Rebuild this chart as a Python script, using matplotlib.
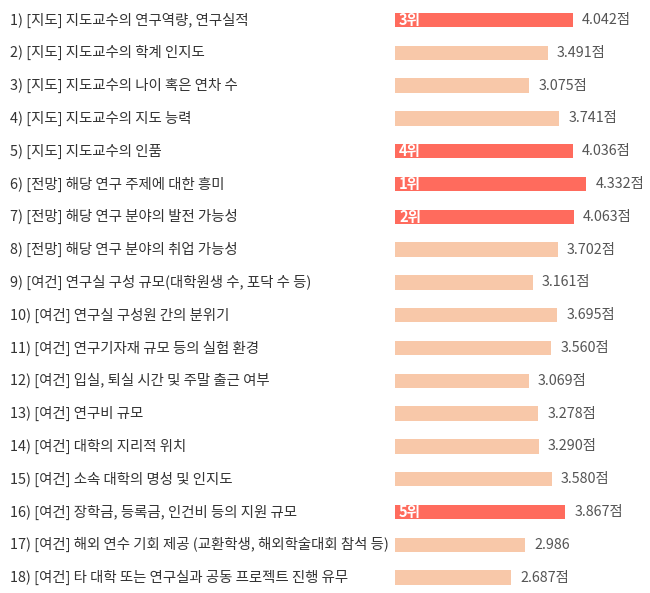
import matplotlib
matplotlib.use('Agg')
import matplotlib.pyplot as plt

plt.rcParams['font.family'] = ['Noto Sans CJK KR', 'DejaVu Sans']

labels = [
    '1) [지도] 지도교수의 연구역량, 연구실적',
    '2) [지도] 지도교수의 학계 인지도',
    '3) [지도] 지도교수의 나이 혹은 연차 수',
    '4) [지도] 지도교수의 지도 능력',
    '5) [지도] 지도교수의 인품',
    '6) [전망] 해당 연구 주제에 대한 흥미',
    '7) [전망] 해당 연구 분야의 발전 가능성',
    '8) [전망] 해당 연구 분야의 취업 가능성',
    '9) [여건] 연구실 구성 규모(대학원생 수, 포닥 수 등)',
    '10) [여건] 연구실 구성원 간의 분위기',
    '11) [여건] 연구기자재 규모 등의 실험 환경',
    '12) [여건] 입실, 퇴실 시간 및 주말 출근 여부',
    '13) [여건] 연구비 규모',
    '14) [여건] 대학의 지리적 위치',
    '15) [여건] 소속 대학의 명성 및 인지도',
    '16) [여건] 장학금, 등록금, 인건비 등의 지원 규모',
    '17) [여건] 해외 연수 기회 제공 (교환학생, 해외학술대회 참석 등)',
    '18) [여건] 타 대학 또는 연구실과 공동 프로젝트 진행 유무',
]
scores = [4.042, 3.491, 3.075, 3.741, 4.036, 4.332, 4.063, 3.702, 3.161,
          3.695, 3.560, 3.069, 3.278, 3.290, 3.580, 3.867, 2.986, 2.687]
score_text = ['4.042점', '3.491점', '3.075점', '3.741점', '4.036점', '4.332점',
              '4.063점', '3.702점', '3.161점', '3.695점', '3.560점', '3.069점',
              '3.278점', '3.290점', '3.580점', '3.867점', '2.986', '2.687점']
ranks = {0: '3위', 4: '4위', 5: '1위', 6: '2위', 15: '5위'}

red = '#FF6B5D'
peach = '#F8C8A9'

fig = plt.figure(figsize=(6.5, 5.93), dpi=100)
# bars axis: starts at pixel 395, bar value 0 maps to ~389.5 px
ax = fig.add_axes([395 / 650, 0, 255 / 650, 1])
px = 45.4  # pixels per unit
x0 = 5.5 / px
x1 = x0 + 255 / px
ax.set_xlim(x0, x1)
row = 32.8
top = 20
ax.set_ylim(593, 0)

for i, v in enumerate(scores):
    y = top + i * row
    c = red if i in ranks else peach
    ax.barh(y, v, height=14.5, left=0, color=c)
    ax.text(v + 0.2, y, score_text[i], va='center', ha='left',
            fontsize=10.3, color='#555555')
    if i in ranks:
        ax.text(x0 + 0.09, y, ranks[i], va='center', ha='left',
                fontsize=10.5, color='white', fontweight='bold')
    fig.text(10 / 650, 1 - y / 593, labels[i], va='center', ha='left',
             fontsize=10.4, color='#333333')

ax.axis('off')
fig.savefig('out.png', dpi=100)
